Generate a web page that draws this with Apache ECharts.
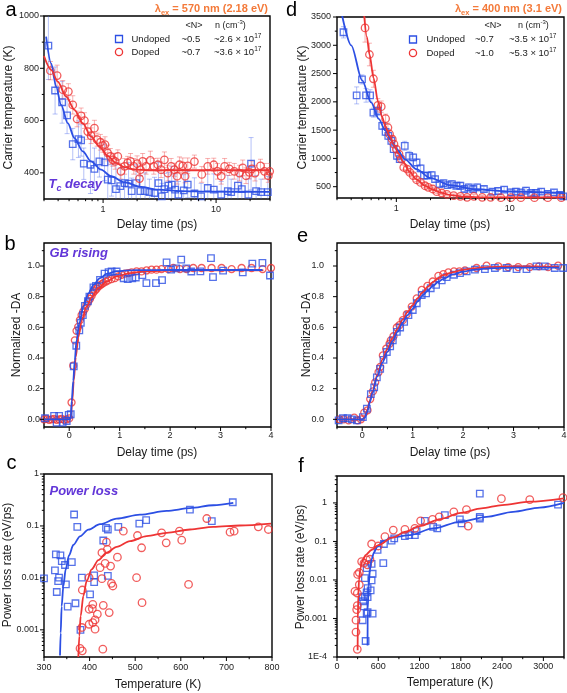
<!DOCTYPE html>
<html><head><meta charset="utf-8">
<script src="https://cdn.jsdelivr.net/npm/echarts@6.0.0/dist/echarts.min.js"></script>
<style>html,body{margin:0;padding:0;background:#fff}#c{width:567px;height:693px}</style>
</head><body><div id="c"></div>
<script>
// ---------- DATA ----------
// Panel a: carrier temperature (K) vs delay time (ps), 570 nm excitation
const aUndoped = [[0.328,887],[0.376,715],[0.434,670],[0.48,620],[0.539,510],[0.605,529],[0.639,524],[0.675,435],[0.773,431],[0.838,415],[0.928,444],[1.03,440],[1.10,374],[1.19,371],[1.30,338],[1.42,349],[1.55,361],[1.68,359],[1.79,330],[1.96,361],[2.14,330],[2.35,330],[2.57,326],[2.85,323],[3.09,361],[3.31,310],[3.49,338],[3.79,351],[4.05,355],[4.34,336],[4.64,317],[5.17,333],[5.61,355],[6.43,321],[7.37,310],[8.44,342],[9.54,336],[11.1,317],[12.7,330],[13.6,326],[15.6,351],[16.9,338],[19.3,317],[20.4,435],[22.6,330],[25.0,326],[28.7,326]];
const aUndopedErr = [130,90,80,70,60,70,60,60,110,80,60,70,90,60,100,70,60,80,50,70,60,70,50,60,80,50,60,50,70,60,50,60,50,60,50,70,60,50,60,50,60,50,60,100,60,50,60];
const aDoped = [[0.342,791],[0.392,772],[0.44,718],[0.493,711],[0.539,660],[0.589,606],[0.639,618],[0.684,600],[0.732,558],[0.783,542],[0.838,571],[0.885,527],[0.947,517],[0.993,504],[1.04,508],[1.10,476],[1.16,463],[1.22,450],[1.28,444],[1.35,463],[1.44,406],[1.55,425],[1.65,438],[1.75,444],[1.87,425],[2.0,435],[2.1,378],[2.14,412],[2.24,444],[2.40,425],[2.62,448],[2.81,425],[3.05,431],[3.26,412],[3.49,450],[3.74,399],[4.0,425],[4.28,412],[4.52,387],[4.74,431],[5.07,427],[5.32,387],[5.61,427],[6.43,443],[7.47,394],[8.44,425],[9.54,431],[10.3,406],[11.1,387],[11.9,425],[13.1,415],[14.5,406],[16.1,399],[17.2,419],[18.4,389],[19.7,402],[20.7,415],[22.1,399],[24.7,427],[26.8,406],[29.0,389],[29.8,406]];
const aDopedErr = [35,40,35,30,35,30,30,30,30,30,30,25,30,25,30,30,30,25,30,25,30,30,25,30,30,30,30,25,30,30,35,30,25,30,30,30,30,25,30,30,30,25,30,25,30,30,25,30,30,30,25,30,30,30,30,25,30,30,25,30,25,30];
const aUndopedFit = [[0.313,921],[0.347,819],[0.384,730],[0.425,660],[0.487,590],[0.558,533],[0.661,482],[0.783,444],[0.960,412],[1.177,387],[1.545,364],[2.169,346],[3.046,336],[4.90,330],[8.44,328],[30,327]];
const aDopedFit = [[0.3,847],[0.347,794],[0.397,749],[0.471,692],[0.558,641],[0.661,590],[0.783,539],[0.928,500],[1.10,465],[1.30,438],[1.545,422],[1.894,413],[2.485,410],[30,410]];

// Panel d: carrier temperature (K) vs delay time (ps), 400 nm excitation
const dUndoped = [[0.342,3230],[0.447,2114],[0.498,2396],[0.541,2114],[0.587,2114],[0.628,1809],[0.687,1838],[0.751,1574],[0.804,1469],[0.849,1398],[0.903,1310],[0.947,1163],[1.014,1046],[1.071,987],[1.186,1222],[1.297,1046],[1.407,1017],[1.507,928],[1.635,823],[1.751,694],[1.875,694],[2.049,705],[2.194,635],[2.398,547],[2.603,564],[2.825,529],[3.088,547],[3.375,517],[3.663,517],[3.977,459],[4.345,488],[4.749,459],[5.155,488],[5.908,459],[7.012,412],[7.873,424],[8.904,447],[10.21,400],[11.31,412],[12.53,400],[13.88,429],[15.38,388],[17.04,388],[18.88,412],[21.64,371],[24.47,400],[27.49,353],[29.5,330]];
const dUndopedErr = [100,150,80,120,100,80,80,60,60,60,60,60,60,60,80,80,60,60,60,50,50,60,50,50,50,50,60,50,60,50,60,50,60,50,50,60,50,60,60,50,60,50,60,50,60,50,60,50];
const dDoped = [[0.530,3306],[0.579,2837],[0.628,2408],[0.687,1938],[0.736,1915],[0.804,1703],[0.843,1545],[0.872,1428],[0.921,1339],[0.953,1251],[1.0,1163],[1.056,1075],[1.108,987],[1.162,840],[1.245,811],[1.314,753],[1.407,694],[1.507,623],[1.635,576],[1.788,517],[1.914,488],[2.092,459],[2.270,412],[2.516,388],[2.787,365],[3.196,341],[3.663,330],[4.2,312],[4.815,330],[5.711,312],[6.776,312],[8.317,306],[10.2,306],[12.5,306],[16.47,306],[21.6,306],[28.4,306]];
const dDopedErr = [250,200,150,120,100,80,80,70,60,60,50,50,50,40,40,40,40,30,30,30,30,30,30,30,30,30,30,30,30,30,30,30,30,30,30,30,30];
const dUndopedFit = [[0.33,3560],[0.40,3000],[0.50,2380],[0.60,1990],[0.70,1700],[0.80,1490],[0.90,1320],[1.0,1170],[1.2,980],[1.5,810],[2.0,650],[3.0,525],[5.0,455],[10,415],[30,385]];
const dDopedFit = [[0.52,3540],[0.55,3150],[0.58,2840],[0.63,2420],[0.69,2000],[0.75,1730],[0.80,1570],[0.87,1400],[0.95,1240],[1.05,1080],[1.15,940],[1.3,770],[1.5,630],[1.8,515],[2.1,450],[2.5,390],[3.0,352],[4.0,322],[6.0,312],[30,310]];

// Panel b: normalized -DA vs delay time (ps), 570 nm
const bUndoped = [[-0.48,0.007],[-0.3,0.022],[-0.25,-0.022],[-0.2,0.022],[-0.13,-0.022],[-0.05,-0.011],[-0.01,0.029],[0.03,0.033],[0.09,0.345],[0.14,0.48],[0.2,0.58],[0.23,0.63],[0.27,0.68],[0.31,0.74],[0.37,0.77],[0.4,0.8],[0.48,0.86],[0.53,0.87],[0.61,0.91],[0.7,0.95],[0.78,0.96],[0.84,0.964],[0.94,0.964],[1.08,0.92],[1.16,0.914],[1.25,0.92],[1.32,0.925],[1.45,0.94],[1.53,0.888],[1.72,0.888],[1.84,0.908],[1.93,1.024],[2.02,0.977],[2.12,0.985],[2.22,1.041],[2.32,0.985],[2.42,0.964],[2.6,0.965],[2.81,1.052],[2.85,0.928],[3.05,0.97],[3.44,0.958],[3.63,1.015],[3.83,1.02],[3.98,0.938]];
const bDoped = [[-0.5,0.0],[-0.45,0.003],[-0.4,-0.003],[-0.35,0.0],[-0.3,0.003],[-0.25,-0.003],[-0.2,0.0],[-0.15,0.003],[-0.1,-0.003],[-0.05,0.0],[0.0,0.006],[0.046,0.11],[0.079,0.35],[0.112,0.515],[0.145,0.577],[0.178,0.603],[0.211,0.647],[0.245,0.68],[0.278,0.702],[0.31,0.72],[0.344,0.748],[0.377,0.768],[0.41,0.785],[0.443,0.805],[0.476,0.827],[0.51,0.84],[0.543,0.852],[0.575,0.866],[0.61,0.874],[0.645,0.882],[0.68,0.89],[0.727,0.899],[0.773,0.906],[0.839,0.914],[0.905,0.921],[0.972,0.932],[1.038,0.943],[1.104,0.95],[1.17,0.954],[1.236,0.958],[1.335,0.965],[1.434,0.965],[1.533,0.971],[1.632,0.976],[1.73,0.976],[1.83,0.98],[1.963,0.98],[2.062,0.987],[2.194,0.98],[2.327,0.98],[2.459,0.987],[2.624,0.987],[2.822,0.987],[3.02,0.987],[3.219,0.98],[3.417,0.987],[3.615,0.987],[3.833,0.98],[4.0,0.987]];
const bUndopedFit = [[-0.5,0],[0.0,0],[0.03,0.01],[0.05,0.12],[0.08,0.25],[0.11,0.384],[0.145,0.515],[0.2,0.625],[0.28,0.735],[0.38,0.822],[0.48,0.877],[0.61,0.921],[0.74,0.948],[0.94,0.966],[1.27,0.973],[2.0,0.974],[3.83,0.974]];
const bDopedFit = [[-0.5,0],[0.0,0],[0.03,0.005],[0.06,0.12],[0.09,0.252],[0.13,0.406],[0.18,0.537],[0.245,0.647],[0.345,0.735],[0.445,0.796],[0.575,0.855],[0.74,0.899],[0.94,0.932],[1.2,0.954],[1.53,0.965],[2.06,0.971],[3.85,0.972]];

// Panel e: normalized -DA vs delay time (ps), 400 nm
const eUndoped = [[-0.468,-0.007],[-0.382,0.007],[-0.29,0.007],[-0.204,0.0],[-0.105,-0.007],[0.013,0.015],[0.092,0.07],[0.171,0.164],[0.237,0.208],[0.29,0.274],[0.356,0.329],[0.422,0.388],[0.488,0.439],[0.554,0.476],[0.606,0.515],[0.686,0.57],[0.752,0.599],[0.831,0.636],[0.916,0.68],[1.002,0.713],[1.081,0.757],[1.18,0.811],[1.266,0.822],[1.358,0.855],[1.464,0.877],[1.576,0.906],[1.674,0.928],[1.819,0.943],[1.938,0.954],[2.07,0.965],[2.235,0.976],[2.432,0.98],[2.63,0.987],[2.861,0.987],[3.059,0.98],[3.256,0.98],[3.454,0.998],[3.619,0.998],[3.817,0.987],[3.982,0.987]];
const eDoped = [[-0.448,0.0],[-0.369,0.0],[-0.27,-0.007],[-0.158,0.011],[-0.092,-0.007],[-0.026,0.0],[0.04,0.044],[0.105,0.059],[0.158,0.132],[0.211,0.182],[0.257,0.241],[0.323,0.307],[0.356,0.342],[0.409,0.417],[0.475,0.461],[0.541,0.493],[0.567,0.515],[0.62,0.542],[0.686,0.599],[0.738,0.614],[0.804,0.647],[0.883,0.686],[0.982,0.735],[1.081,0.789],[1.18,0.844],[1.292,0.87],[1.398,0.899],[1.51,0.936],[1.608,0.947],[1.707,0.958],[1.819,0.965],[1.925,0.965],[2.037,0.971],[2.268,0.987],[2.465,1.002],[2.696,0.998],[2.894,0.993],[3.092,0.993],[3.322,0.993],[3.507,0.998],[3.685,0.993],[3.883,1.002]];
const eUndopedFit = [[-0.5,0],[0.0,0],[0.05,0.01],[0.1,0.05],[0.15,0.11],[0.2,0.17],[0.3,0.28],[0.4,0.37],[0.5,0.44],[0.6,0.51],[0.7,0.57],[0.8,0.63],[0.9,0.68],[1.0,0.72],[1.1,0.77],[1.2,0.81],[1.3,0.84],[1.4,0.87],[1.5,0.895],[1.6,0.915],[1.8,0.945],[2.0,0.963],[2.2,0.975],[2.5,0.985],[3.0,0.99],[3.5,0.99],[3.9,0.99]];
const eDopedFit = [[-0.5,0],[0.0,0],[0.05,0.015],[0.1,0.06],[0.15,0.12],[0.2,0.18],[0.3,0.29],[0.4,0.39],[0.5,0.46],[0.6,0.53],[0.7,0.59],[0.8,0.65],[0.9,0.7],[1.0,0.745],[1.1,0.79],[1.2,0.83],[1.3,0.865],[1.4,0.895],[1.5,0.92],[1.6,0.94],[1.8,0.96],[2.0,0.975],[2.2,0.985],[2.5,0.993],[3.0,0.998],[3.5,0.997],[3.9,0.995]];

// Panel c: power loss rate (eV/ps) vs temperature (K), 570 nm
const cUndoped = [[300,0.0098],[324,0.0139],[326,0.0283],[328,0.00535],[331,0.0087],[333,0.0101],[336,0.0271],[339,0.0211],[346,0.0177],[348,0.0075],[352,0.0028],[361,0.0202],[366,0.166],[369,0.00325],[373,0.096],[380,0.001],[383,0.0101],[401,0.00483],[410,0.0112],[410,0.0083],[430,0.0525],[436,0.092],[440,0.0855],[440,0.0109],[463,0.096],[509,0.111],[524,0.129],[620,0.207],[668,0.1235],[714,0.286]];
const cDoped = [[474,0.0794],[505,0.0655],[514,0.038],[558,0.0737],[568,0.0474],[597,0.0794],[602,0.0533],[657,0.139],[708,0.0759],[717,0.0794],[770,0.096],[792,0.0855],[617,0.0075],[503,0.0101],[515,0.00334],[439,0.0353],[427,0.0305],[437,0.0488],[446,0.0169],[461,0.0251],[434,0.019],[423,0.0157],[427,0.00966],[399,0.0101],[384,0.00585],[448,0.00785],[451,0.00698],[399,0.00249],[407,0.0031],[406,0.00256],[443,0.00215],[430,0.00297],[417,0.002],[412,0.00155],[399,0.00128],[407,0.00138],[412,0.00103],[383,0.00111],[379,0.000438],[384,0.000395],[429,0.000425]];
const cUndopedFit = [[335.1,0.00032],[336.6,0.00087],[338.7,0.00284],[342.4,0.0069],[347.5,0.0145],[354.8,0.027],[364.3,0.043],[378.9,0.063],[397.2,0.085],[422.8,0.108],[459.4,0.138],[510.5,0.165],[569,0.195],[620.2,0.22],[671.3,0.25],[715.1,0.277]];
const cDopedFit = [[375.3,0.0003],[377.5,0.000766],[380.4,0.00185],[386.3,0.00449],[393.6,0.00871],[404.5,0.0146],[419.2,0.022],[437.4,0.0305],[459.4,0.0397],[488.6,0.051],[525.1,0.0637],[569,0.0738],[620.2,0.0855],[671.3,0.0961],[729.8,0.102],[797.8,0.111]];

// Panel f: power loss rate (eV/ps) vs temperature (K), 400 nm
const fUndoped = [[416,0.00026],[373,0.0009],[392,0.00207],[382,0.0028],[406,0.00376],[373,0.0036],[431,0.00134],[445,0.00145],[445,0.0036],[431,0.00477],[445,0.00617],[489,0.00537],[518,0.00134],[503,0.0097],[518,0.0145],[406,0.0112],[431,0.0202],[503,0.0262],[673,0.0272],[590,0.0601],[682,0.0859],[794,0.1047],[832,0.12],[987,0.138],[1050,0.1466],[1132,0.1466],[1157,0.186],[1277,0.343],[1398,0.24],[1457,0.218],[1568,0.481],[1786,0.372],[1810,0.293],[2076,0.435],[2076,0.394],[2076,1.74],[3213,0.906]];
const fDoped = [[295,0.000158],[276,0.000443],[276,0.000904],[286,0.0017],[295,0.00216],[261,0.00506],[295,0.00458],[324,0.00752],[300,0.0139],[324,0.0156],[358,0.030],[392,0.0272],[431,0.0332],[445,0.0247],[479,0.0345],[503,0.0859],[600,0.0762],[697,0.133],[818,0.197],[987,0.205],[1132,0.218],[1215,0.343],[1389,0.372],[1486,0.435],[1698,0.586],[1882,0.673],[1907,0.25],[2390,1.29],[2802,1.22],[3286,1.37]];
const fUndopedFit = [[444,0.0002],[446,0.0017],[460,0.0068],[479,0.0183],[503,0.0345],[537,0.0513],[586,0.0733],[673,0.1026],[818,0.13],[1060,0.1466],[1399,0.218],[1786,0.3235],[2173,0.4355],[2560,0.586],[2947,0.758],[3300,1.0]];
const fDopedFit = [[300,0.00015],[303,0.001],[310,0.004],[320,0.01],[340,0.02],[370,0.032],[420,0.045],[500,0.06],[600,0.08],[800,0.125],[1000,0.18],[1200,0.25],[1500,0.38],[1800,0.55],[2100,0.72],[2400,0.88],[2800,1.08],[3300,1.32]];

// Tick positions
const logDelayMajor = [1, 10];
const logDelayMinor = [0.3,0.4,0.5,0.6,0.7,0.8,0.9,2,3,4,5,6,7,8,9,20,30];
const aTempMajor = [400,600,800,1000];
const aTempMinor = [500,700,900];
const dTempMajor = [500,1000,1500,2000,2500,3000,3500];
const dTempMinor = [750,1250,1750,2250,2750,3250];
const linDelayMajor = [0,1,2,3,4];
const linDelayMinor = [-0.5,0.5,1.5,2.5,3.5];
const normMajor = [0,0.2,0.4,0.6,0.8,1.0];
const normMinor = [0.1,0.3,0.5,0.7,0.9,1.1];
const cTempMajor = [300,400,500,600,700,800];
const cTempMinor = [350,450,550,650,750];
const cPowerMajor = [0.001,0.01,0.1,1];
const cPowerMinor = [0.0004,0.0005,0.0006,0.0007,0.0008,0.0009,0.002,0.003,0.004,0.005,0.006,0.007,0.008,0.009,0.02,0.03,0.04,0.05,0.06,0.07,0.08,0.09,0.2,0.3,0.4,0.5,0.6,0.7,0.8,0.9];
const fTempMajor = [0,600,1200,1800,2400,3000];
const fTempMinor = [300,900,1500,2100,2700,3300];
const fPowerMajor = [0.0001,0.001,0.01,0.1,1];
const fPowerMinor = [0.0002,0.0003,0.0004,0.0005,0.0006,0.0007,0.0008,0.0009,0.002,0.003,0.004,0.005,0.006,0.007,0.008,0.009,0.02,0.03,0.04,0.05,0.06,0.07,0.08,0.09,0.2,0.3,0.4,0.5,0.6,0.7,0.8,0.9,2,3,4,5];

// ---------- STYLE ----------
const BLUE = '#2c4fe4', RED = '#ee3434', PURPLE = '#6236d8', ORANGE = '#f47a3a';
const BLUE_ERR = 'rgba(70,100,235,0.40)', RED_ERR = 'rgba(240,80,80,0.45)';
const FONT = '"Liberation Sans", Arial, Helvetica, sans-serif';

const fmtLog = v => { const l = Math.log10(v), r = Math.round(l); if (Math.abs(l - r) > 1e-6) return ''; if (r <= -4) return '1E' + r; return r >= 0 ? String(Math.pow(10, r)) : Math.pow(10, r).toFixed(-r); };
const fmtStep = (step, dec) => v => { const q = v / step, r = Math.round(q); return Math.abs(q - r) < 1e-6 ? (r * step).toFixed(dec) : ''; };

const gridBase = {show: true, borderColor: '#000', borderWidth: 1.4, backgroundColor: 'transparent', containLabel: false, outerBoundsMode: 'none'};
const grids = [
  {left: 44, top: 16, width: 226, height: 183},
  {left: 337, top: 17, width: 227, height: 181},
  {left: 44, top: 243, width: 227, height: 184},
  {left: 337, top: 243, width: 227, height: 184},
  {left: 44, top: 474, width: 228, height: 183},
  {left: 337, top: 476, width: 227, height: 181}
].map(g => Object.assign({}, gridBase, g));

function ax(gi, o, margin, fmt) {
  return Object.assign({
    gridIndex: gi, axisLine: {show: false}, axisTick: {show: false}, splitLine: {show: false},
    minorTick: {show: false}, minorSplitLine: {show: false},
    axisLabel: {fontSize: 9, color: '#222', fontFamily: FONT, margin: margin, formatter: fmt, showMinLabel: true, showMaxLabel: true}
  }, o);
}
const xAxes = [
  ax(0, {type: 'log', logBase: 10, min: 0.3, max: 30}, 6, fmtLog),
  ax(1, {type: 'log', logBase: 10, min: 0.3, max: 30}, 6, fmtLog),
  ax(2, {type: 'value', min: -0.5, max: 4, interval: 0.5}, 4, fmtStep(1, 0)),
  ax(3, {type: 'value', min: -0.5, max: 4, interval: 0.5}, 4, fmtStep(1, 0)),
  ax(4, {type: 'value', min: 300, max: 800, interval: 100}, 6, fmtStep(100, 0)),
  ax(5, {type: 'value', min: 0, max: 3300, interval: 300}, 5, fmtStep(600, 0))
];
const yAxes = [
  ax(0, {type: 'value', min: 300, max: 1000, interval: 100}, 5, fmtStep(200, 0)),
  ax(1, {type: 'value', min: 300, max: 3500, interval: 100}, 6, fmtStep(500, 0)),
  ax(2, {type: 'value', min: -0.05, max: 1.15, interval: 0.05}, 4, fmtStep(0.2, 1)),
  ax(3, {type: 'value', min: -0.05, max: 1.15, interval: 0.05}, 13, fmtStep(0.2, 1)),
  ax(4, {type: 'log', logBase: 10, min: 0.0003, max: 1}, 5, fmtLog),
  ax(5, {type: 'log', logBase: 10, min: 0.0001, max: 5}, 10, fmtLog)
];

function scatter(gi, data, sym, color, size) {
  return {type: 'scatter', xAxisIndex: gi, yAxisIndex: gi, data: data, symbol: sym, symbolSize: size, silent: true, z: 3, clip: true,
    itemStyle: {color: 'rgba(255,255,255,0)', borderColor: color, borderWidth: 1.3}};
}
function fit(gi, data, color) {
  return {type: 'line', xAxisIndex: gi, yAxisIndex: gi, data: data, showSymbol: false, symbol: 'none', smooth: 0.3, smoothMonotone: 'x',
    silent: true, z: 4, clip: true, lineStyle: {color: color, width: 1.8}};
}
function errbars(gi, pts, errs, color) {
  const data = pts.map((p, i) => [p[0], p[1] - errs[i], p[1] + errs[i]]);
  return {type: 'custom', xAxisIndex: gi, yAxisIndex: gi, data: data, silent: true, z: 2, clip: true,
    encode: {x: 0, y: [1, 2]},
    renderItem: (params, api) => {
      const lo = api.coord([api.value(0), api.value(1)]);
      const hi = api.coord([api.value(0), api.value(2)]);
      const st = {stroke: color, lineWidth: 1};
      return {type: 'group', children: [
        {type: 'line', shape: {x1: lo[0], y1: lo[1], x2: hi[0], y2: hi[1]}, style: st},
        {type: 'line', shape: {x1: lo[0] - 2.5, y1: lo[1], x2: lo[0] + 2.5, y2: lo[1]}, style: st},
        {type: 'line', shape: {x1: hi[0] - 2.5, y1: hi[1], x2: hi[0] + 2.5, y2: hi[1]}, style: st}
      ]};
    }};
}
function ticks(gi, dir, majors, minors, at) {
  const mk = (v, L) => dir === 'x' ? [v, at, L] : [at, v, L];
  const data = majors.map(v => mk(v, 4)).concat(minors.map(v => mk(v, 2.2)));
  return {type: 'custom', xAxisIndex: gi, yAxisIndex: gi, data: data, silent: true, z: 10, clip: false,
    renderItem: (params, api) => {
      const c = api.coord([api.value(0), api.value(1)]);
      const L = api.value(2);
      const shape = dir === 'x' ? {x1: c[0], y1: c[1], x2: c[0], y2: c[1] + L} : {x1: c[0], y1: c[1], x2: c[0] - L, y2: c[1]};
      return {type: 'line', shape: shape, style: {stroke: '#000', lineWidth: 1}};
    }};
}

const series = [
  errbars(0, aUndoped, aUndopedErr, BLUE_ERR), errbars(0, aDoped, aDopedErr, RED_ERR),
  scatter(0, aUndoped, 'rect', BLUE, 6.5), scatter(0, aDoped, 'circle', RED, 7.5),
  fit(0, aUndopedFit, BLUE), fit(0, aDopedFit, RED),
  errbars(1, dUndoped, dUndopedErr, BLUE_ERR), errbars(1, dDoped, dDopedErr, RED_ERR),
  scatter(1, dUndoped, 'rect', BLUE, 6.5), scatter(1, dDoped, 'circle', RED, 7.5),
  fit(1, dUndopedFit, BLUE), fit(1, dDopedFit, RED),
  scatter(2, bDoped, 'circle', RED, 7), scatter(2, bUndoped, 'rect', BLUE, 6.5),
  fit(2, bDopedFit, RED), fit(2, bUndopedFit, BLUE),
  scatter(3, eDoped, 'circle', RED, 7), scatter(3, eUndoped, 'rect', BLUE, 6.5),
  fit(3, eDopedFit, RED), fit(3, eUndopedFit, BLUE),
  scatter(4, cUndoped, 'rect', BLUE, 6.5), scatter(4, cDoped, 'circle', RED, 7.5),
  fit(4, cUndopedFit, BLUE), fit(4, cDopedFit, RED),
  scatter(5, fUndoped, 'rect', BLUE, 6.5), scatter(5, fDoped, 'circle', RED, 7.5),
  fit(5, fUndopedFit, BLUE), fit(5, fDopedFit, RED),
  ticks(0, 'x', logDelayMajor, logDelayMinor, 300), ticks(0, 'y', aTempMajor, aTempMinor, 0.3),
  ticks(1, 'x', logDelayMajor, logDelayMinor, 300), ticks(1, 'y', dTempMajor, dTempMinor, 0.3),
  ticks(2, 'x', linDelayMajor, linDelayMinor, -0.05), ticks(2, 'y', normMajor, normMinor, -0.5),
  ticks(3, 'x', linDelayMajor, linDelayMinor, -0.05), ticks(3, 'y', normMajor, normMinor, -0.5),
  ticks(4, 'x', cTempMajor, cTempMinor, 0.0003), ticks(4, 'y', cPowerMajor, cPowerMinor, 300),
  ticks(5, 'x', fTempMajor, fTempMinor, 0.0001), ticks(5, 'y', fPowerMajor, fPowerMinor, 0)
];

// ---------- TEXT (graphic) ----------
function T(x, y, text, o) {
  o = o || {};
  return {type: 'text', x: x, y: y, rotation: o.rot || 0, silent: true, z: 20,
    style: {text: text, fill: o.fill || '#1a1a1a', font: o.font || ('12px ' + FONT), textAlign: o.align || 'center', textVerticalAlign: 'middle', rich: o.rich}};
}
const richMain = (size, color, weight, style) => ({fontSize: size, fontFamily: FONT, fill: color, fontWeight: weight || 'normal', fontStyle: style || 'normal', lineHeight: Math.round(size * 1.35)});
const richSub = (size, color, weight, style) => ({fontSize: size, fontFamily: FONT, fill: color, fontWeight: weight || 'normal', fontStyle: style || 'normal', lineHeight: size, verticalAlign: 'bottom'});
const richSup = (size, color, weight, style) => ({fontSize: size, fontFamily: FONT, fill: color, fontWeight: weight || 'normal', fontStyle: style || 'normal', lineHeight: size, verticalAlign: 'top'});

const lamRich = {m: richMain(11, ORANGE, 'bold'), s: richSub(7.5, ORANGE, 'bold')};
const legRich = {m: richMain(9.5, '#1a1a1a'), p: richSup(6.5, '#1a1a1a')};
const hdrRich = {m: richMain(9, '#1a1a1a'), p: richSup(6, '#1a1a1a')};
const tagRich = {m: richMain(13, PURPLE, 'bold', 'italic'), s: richSub(9, PURPLE, 'bold', 'italic')};

const letterFont = '20px ' + FONT;
const graphics = [
  T(11, 10.5, 'a', {font: letterFont, fill: '#000'}),
  T(291.5, 10.5, 'd', {font: letterFont, fill: '#000'}),
  T(10, 244, 'b', {font: letterFont, fill: '#000'}),
  T(302.5, 236.5, 'e', {font: letterFont, fill: '#000'}),
  T(11.5, 463.5, 'c', {font: letterFont, fill: '#000'}),
  T(301, 466.5, 'f', {font: letterFont, fill: '#000'}),

  T(268, 9, '{m|λ}{s|ex}{m| = 570 nm (2.18 eV)}', {align: 'right', rich: lamRich}),
  T(562, 9, '{m|λ}{s|ex}{m| = 400 nm (3.1 eV)}', {align: 'right', rich: lamRich}),

  // legend a
  T(194, 25.5, '{m|<N>}', {rich: hdrRich}),
  T(215, 25.5, '{m|n (cm}{p|-3}{m|)}', {align: 'left', rich: hdrRich}),
  T(131.5, 39, '{m|Undoped}', {align: 'left', rich: legRich}),
  T(181.5, 39, '{m|~0.5}', {align: 'left', rich: legRich}),
  T(214, 39, '{m|~2.6 × 10}{p|17}', {align: 'left', rich: legRich}),
  T(131.5, 52, '{m|Doped}', {align: 'left', rich: legRich}),
  T(181.5, 52, '{m|~0.7}', {align: 'left', rich: legRich}),
  T(214, 52, '{m|~3.6 × 10}{p|17}', {align: 'left', rich: legRich}),
  {type: 'rect', shape: {x: 115.5, y: 35.5, width: 7, height: 7}, style: {fill: 'none', stroke: BLUE, lineWidth: 1.3}, z: 20},
  {type: 'circle', shape: {cx: 119, cy: 52, r: 3.6}, style: {fill: 'none', stroke: RED, lineWidth: 1.3}, z: 20},

  // legend d
  T(493, 25.5, '{m|<N>}', {rich: hdrRich}),
  T(518, 25.5, '{m|n (cm}{p|-3}{m|)}', {align: 'left', rich: hdrRich}),
  T(426.5, 39.5, '{m|Undoped}', {align: 'left', rich: legRich}),
  T(475, 39.5, '{m|~0.7}', {align: 'left', rich: legRich}),
  T(509, 39.5, '{m|~3.5 × 10}{p|17}', {align: 'left', rich: legRich}),
  T(426.5, 53, '{m|Doped}', {align: 'left', rich: legRich}),
  T(475, 53, '{m|~1.0}', {align: 'left', rich: legRich}),
  T(509, 53, '{m|~5.3 × 10}{p|17}', {align: 'left', rich: legRich}),
  {type: 'rect', shape: {x: 409.5, y: 36, width: 7, height: 7}, style: {fill: 'none', stroke: BLUE, lineWidth: 1.3}, z: 20},
  {type: 'circle', shape: {cx: 413, cy: 53, r: 3.6}, style: {fill: 'none', stroke: RED, lineWidth: 1.3}, z: 20},

  // in-panel tags
  T(48.5, 184.5, '{m|T}{s|c}{m| decay}', {align: 'left', rich: tagRich}),
  T(49.5, 253.5, '{m|GB rising}', {align: 'left', rich: tagRich}),
  T(49.5, 491.5, '{m|Power loss}', {align: 'left', rich: tagRich}),

  // axis titles
  T(9, 107.5, 'Carrier temperature (K)', {rot: Math.PI / 2}),
  T(303, 107.5, 'Carrier temperature (K)', {rot: Math.PI / 2}),
  T(157, 225, 'Delay time (ps)'),
  T(450, 225, 'Delay time (ps)'),
  T(17, 335, 'Normalized -DA', {rot: Math.PI / 2}),
  T(307, 335, 'Normalized -DA', {rot: Math.PI / 2}),
  T(157, 453, 'Delay time (ps)'),
  T(450, 453, 'Delay time (ps)'),
  T(7.5, 565, 'Power loss rate (eV/ps)', {rot: Math.PI / 2}),
  T(301, 567, 'Power loss rate (eV/ps)', {rot: Math.PI / 2}),
  T(158, 685, 'Temperature (K)'),
  T(450, 683, 'Temperature (K)')
];

const chart = echarts.init(document.getElementById('c'), null, {renderer: 'canvas', width: 567, height: 693});
chart.setOption({
  animation: false,
  backgroundColor: '#fff',
  textStyle: {fontFamily: FONT},
  grid: grids,
  xAxis: xAxes,
  yAxis: yAxes,
  series: series,
  graphic: graphics
});
</script></body></html>
